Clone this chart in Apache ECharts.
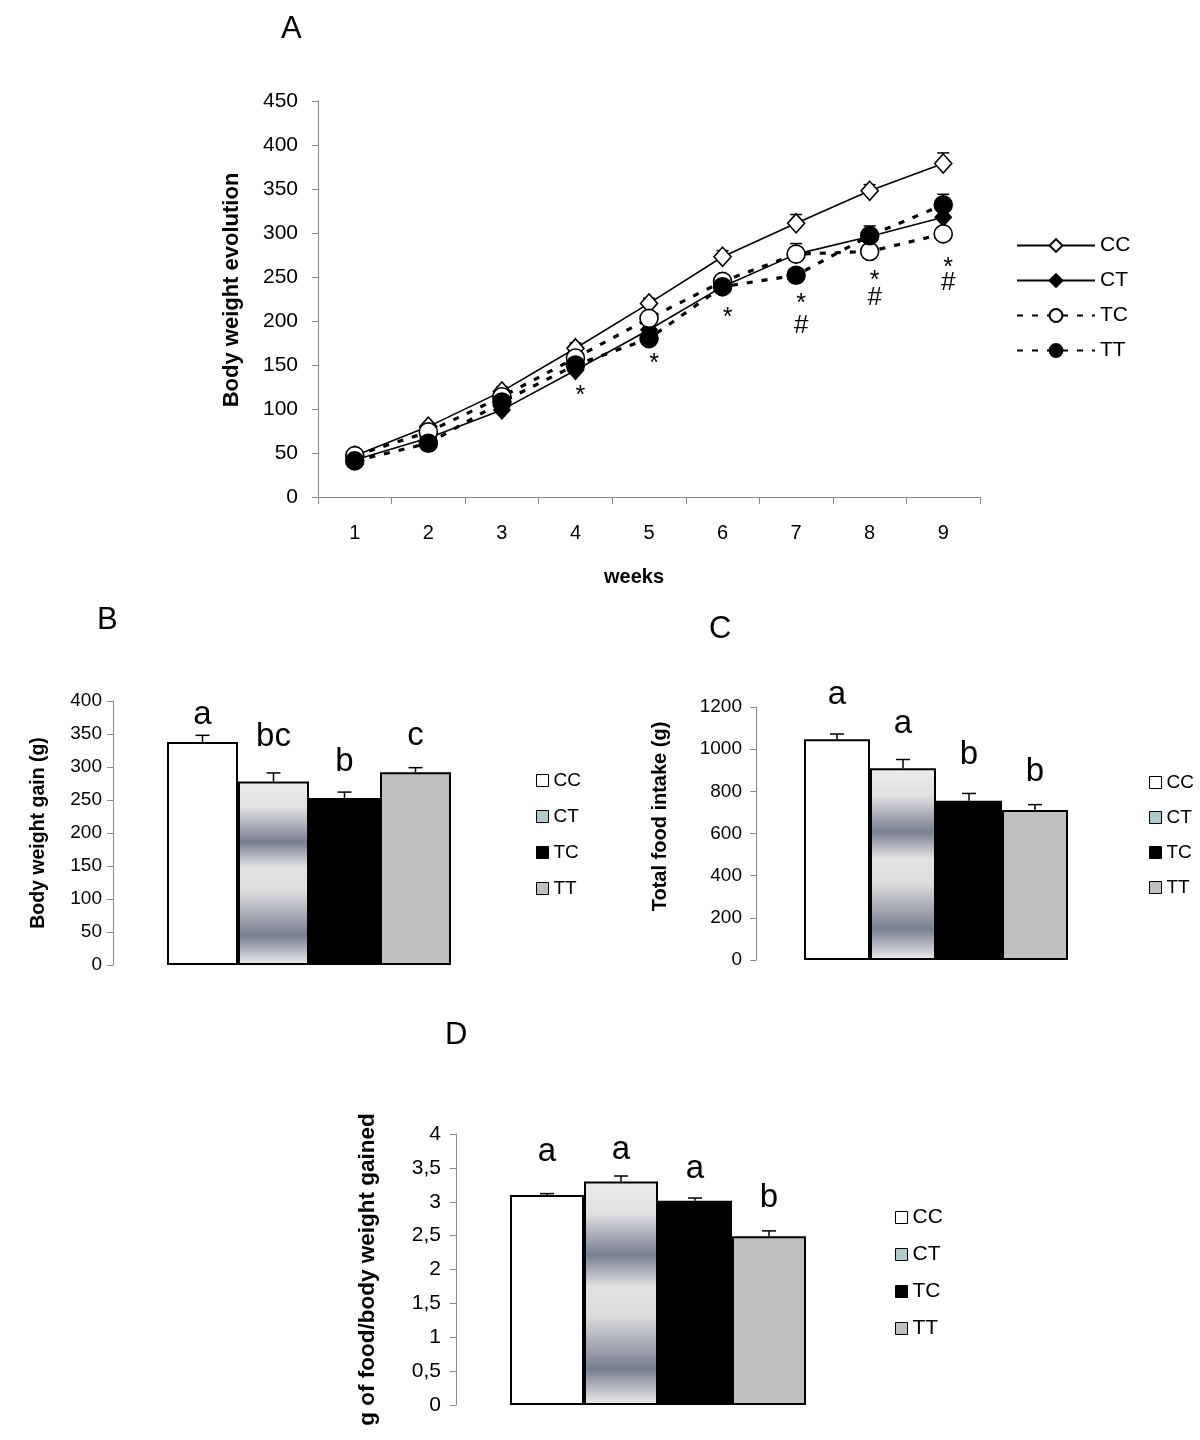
<!DOCTYPE html>
<html><head><meta charset="utf-8">
<script src="https://cdn.jsdelivr.net/npm/echarts@6/dist/echarts.min.js"></script>
<style>
html,body{margin:0;padding:0;background:#fff;}
.layer{position:absolute;left:0;top:0;width:1200px;height:1440px;}
</style></head><body>
<div id="a" class="layer"></div>
<div id="b" class="layer"></div>
<div id="c" class="layer"></div>
<div id="d" class="layer"></div>
<script>
// ---------- DATA ----------
const groups = ['CC', 'CT', 'TC', 'TT'];
const weeks = ['1', '2', '3', '4', '5', '6', '7', '8', '9'];
const ccWeight = [47, 80, 120, 169, 220, 273, 311, 348, 379];
const ctWeight = [42, 67, 99, 144, 190, 239, 276, 296, 318];
const tcWeight = [47, 74, 114, 158, 203, 245, 276, 279, 299];
const ttWeight = [41, 61, 108, 150, 180, 239, 252, 297, 332];
const ccWeightErr = [3, 4, 5, 6, 6, 7, 10, 7, 12];
const ctWeightErr = [2, 3, 4, 5, 6, 7, 7, 7, 8];
const tcWeightErr = [3, 4, 5, 6, 7, 7, 12, 7, 8];
const ttWeightErr = [2, 3, 4, 5, 6, 7, 7, 11, 12];
// significance marks: [week, symbol, height on the value scale]
const sigMarks = [['4', '*', 122], ['5', '*', 158], ['6', '*', 210], ['7', '*', 226], ['7', '#', 195],
                  ['8', '*', 252], ['8', '#', 226], ['9', '*', 267], ['9', '#', 243]];
const yTicksA = [0, 450, 50];

const weightGain = [338, 278, 253, 292];
const weightGainErr = [10, 13, 9, 7];
const weightGainLetters = ['a', 'bc', 'b', 'c'];

const foodIntake = [1047, 909, 755, 711];
const foodIntakeErr = [25, 42, 35, 26];
const foodIntakeLetters = ['a', 'a', 'b', 'b'];

const foodPerGain = [3.1, 3.3, 3.015, 2.49];
const foodPerGainErr = [0.02, 0.08, 0.04, 0.08];
const foodPerGainLetters = ['a', 'a', 'a', 'b'];

// ---------- STYLE ----------
const FONT = '"Liberation Sans", Arial, sans-serif';
const AXIS_GREY = '#8a8a8a';
const ctGradient = () => new echarts.graphic.LinearGradient(0, 0, 0, 1, [
  {offset: 0, color: '#ececec'}, {offset: 0.14, color: '#e2e2e2'},
  {offset: 0.33, color: '#787e93'}, {offset: 0.47, color: '#e3e3e3'},
  {offset: 0.6, color: '#dcdcdc'}, {offset: 0.84, color: '#787e93'},
  {offset: 1, color: '#efefef'}]);
const barFills = [() => '#ffffff', ctGradient, () => '#000000', () => '#c0c0c0'];
const legendFills = ['#ffffff', '#b0cacc', '#000000', '#c0c0c0'];

// ---------- PANEL A ----------
const chartA = echarts.init(document.getElementById('a'), null, {renderer: 'canvas'});
const lineSets = [
  {name: 'CC', data: ccWeight, err: ccWeightErr, symbol: 'diamond', size: [17, 19], fill: '#fff', dashed: false},
  {name: 'CT', data: ctWeight, err: ctWeightErr, symbol: 'diamond', size: [16, 18], fill: '#000', dashed: false},
  {name: 'TC', data: tcWeight, err: tcWeightErr, symbol: 'circle', size: 18, fill: '#fff', dashed: true},
  {name: 'TT', data: ttWeight, err: ttWeightErr, symbol: 'circle', size: 18, fill: '#000', dashed: true}
];
function errRenderer(capHalf, lw) {
  return function (params, api) {
    const i = api.value(0), v = api.value(1), e = api.value(2);
    const base = api.coord([i, v]);
    const top = api.coord([i, v + e]);
    return {type: 'group', children: [
      {type: 'line', shape: {x1: base[0], y1: base[1], x2: top[0], y2: top[1]}, style: {stroke: '#000', lineWidth: lw}},
      {type: 'line', shape: {x1: top[0] - capHalf, y1: top[1], x2: top[0] + capHalf, y2: top[1]}, style: {stroke: '#000', lineWidth: lw}}
    ]};
  };
}
const seriesA = [];
lineSets.forEach(s => {
  seriesA.push({
    type: 'custom', name: s.name + ' err', renderItem: errRenderer(6, 1.5), z: 1,
    data: s.data.map((v, i) => [i, v, s.err[i]]), silent: true
  });
});
lineSets.forEach((s, k) => {
  seriesA.push({
    type: 'line', name: s.name, data: s.data, z: 3 + k,
    symbol: s.symbol, symbolSize: s.size, showAllSymbol: true,
    itemStyle: {color: s.fill, borderColor: '#000', borderWidth: 1.6},
    lineStyle: s.dashed ? {color: '#000', width: 3.2, type: [6, 9]} : {color: '#000', width: 1.6, type: 'solid'},
    emphasis: {disabled: true}, animation: false
  });
});
seriesA.push({
  type: 'custom', name: 'sig', z: 10, silent: true,
  data: sigMarks.map(m => [weeks.indexOf(m[0]), m[2], m[1]]),
  renderItem: function (params, api) {
    const p = api.coord([api.value(0), api.value(1)]);
    const t = sigMarks[params.dataIndex][1];
    return {type: 'text', x: p[0] + 5, y: p[1] + (t === '*' ? 6 : 0),
      style: {text: t, font: (t === '*' ? '25px ' : '26px ') + FONT, fill: '#000', align: 'center', verticalAlign: 'middle'}};
  }
});
chartA.setOption({
  animation: false,
  textStyle: {fontFamily: FONT},
  grid: {left: 318, top: 101, width: 662, height: 396},
  xAxis: {
    type: 'category', data: weeks, boundaryGap: true,
    axisLine: {lineStyle: {color: AXIS_GREY, width: 1}},
    axisTick: {show: true, length: 7, lineStyle: {color: AXIS_GREY}},
    axisLabel: {fontSize: 20, color: '#000', margin: 26, fontFamily: FONT},
    name: 'weeks', nameLocation: 'middle', nameGap: 70,
    nameTextStyle: {fontSize: 20, fontWeight: 'bold', color: '#000', fontFamily: FONT, padding: [0, 30, 0, 0]}
  },
  yAxis: {
    type: 'value', min: yTicksA[0], max: yTicksA[1], interval: yTicksA[2],
    axisLine: {show: true, lineStyle: {color: AXIS_GREY, width: 1}},
    axisTick: {show: true, length: 6, lineStyle: {color: AXIS_GREY}},
    splitLine: {show: false},
    axisLabel: {fontSize: 21, color: '#000', margin: 20, fontFamily: FONT},
    name: 'Body weight evolution', nameLocation: 'middle', nameGap: 75, nameRotate: 90,
    nameTextStyle: {fontSize: 22, fontWeight: 'bold', color: '#000', fontFamily: FONT, padding: [0, 0, 0, 18]}
  },
  legend: {
    orient: 'vertical', left: 1011, top: 230, itemWidth: 78, itemHeight: 16, itemGap: 14,
    data: groups, selectedMode: false,
    textStyle: {fontSize: 21, color: '#000', fontFamily: FONT}
  },
  graphic: [
    {type: 'text', left: 281, top: 14, style: {text: 'A', font: '31px ' + FONT, fill: '#000'}},
    {type: 'text', left: 97, top: 605, style: {text: 'B', font: '31px ' + FONT, fill: '#000'}},
    {type: 'text', left: 709, top: 614, style: {text: 'C', font: '31px ' + FONT, fill: '#000'}},
    {type: 'text', left: 445, top: 1020, style: {text: 'D', font: '31px ' + FONT, fill: '#000'}}
  ],
  series: seriesA
});

// ---------- BAR PANELS ----------
function barPanel(el, cfg) {
  const chart = echarts.init(document.getElementById(el), null, {renderer: 'canvas'});
  const series = groups.map((g, i) => ({
    type: 'bar', name: g, stack: 'all', barCategoryGap: '0%',
    data: cfg.values.map((v, j) => (j === i ? v : '-')),
    itemStyle: {color: barFills[i](), borderColor: '#000', borderWidth: 2},
    emphasis: {disabled: true}, z: 2
  }));
  series.push({
    type: 'custom', name: 'err', z: 1, silent: true,
    data: cfg.values.map((v, i) => [i, v, cfg.errs[i]]),
    renderItem: errRenderer(cfg.cap, 1.5)
  });
  series.push({
    type: 'custom', name: 'letters', z: 5, silent: true,
    data: cfg.values.map((v, i) => [i, v + cfg.errs[i]]),
    renderItem: function (params, api) {
      const p = api.coord([api.value(0), api.value(1)]);
      return {type: 'text', x: p[0], y: p[1] - cfg.lift[params.dataIndex],
        style: {text: cfg.letters[params.dataIndex], font: cfg.letterSize + 'px ' + FONT, fill: '#000',
          align: 'center', verticalAlign: 'bottom'}};
    }
  });
  chart.setOption({
    animation: false,
    textStyle: {fontFamily: FONT},
    grid: cfg.grid,
    xAxis: {type: 'category', data: groups, show: false},
    yAxis: {
      type: 'value', min: cfg.min, max: cfg.max, interval: cfg.interval, offset: cfg.offset,
      axisLine: {show: true, lineStyle: {color: AXIS_GREY, width: 1}},
      axisTick: {show: true, length: 6, lineStyle: {color: AXIS_GREY}},
      splitLine: {show: false},
      axisLabel: {fontSize: cfg.tickSize, color: '#000', margin: cfg.labelMargin, fontFamily: FONT,
        formatter: v => String(v).replace('.', ',')},
      name: cfg.yName, nameLocation: 'middle', nameGap: cfg.nameGap, nameRotate: 90,
      nameTextStyle: {fontSize: cfg.nameSize, fontWeight: 'bold', color: '#000', fontFamily: FONT,
        padding: [0, 0, 0, cfg.nameShift]}
    },
    legend: {
      orient: 'vertical', left: cfg.legend[0], top: cfg.legend[1], icon: 'rect',
      itemWidth: cfg.legendBox, itemHeight: cfg.legendBox, itemGap: cfg.legendGap, selectedMode: false,
      data: groups.map((g, i) => ({name: g, itemStyle: {color: legendFills[i], borderColor: '#000', borderWidth: 1}})),
      textStyle: {fontSize: cfg.legendFont, color: '#000', fontFamily: FONT}
    },
    series: series
  });
}

barPanel('b', {
  values: weightGain, errs: weightGainErr, letters: weightGainLetters,
  grid: {left: 167, top: 701, width: 284, height: 264}, offset: 54,
  min: 0, max: 400, interval: 50, tickSize: 19, labelMargin: 11,
  yName: 'Body weight gain (g)', nameGap: 64, nameSize: 19.5, nameShift: 0,
  legend: [531, 766], legendBox: 12, legendGap: 17, legendFont: 19,
  cap: 7, letterSize: 33, lift: [4, 20, 14, 15]
});
barPanel('c', {
  values: foodIntake, errs: foodIntakeErr, letters: foodIntakeLetters,
  grid: {left: 804, top: 707, width: 264, height: 253}, offset: 48,
  min: 0, max: 1200, interval: 200, tickSize: 19, labelMargin: 14,
  yName: 'Total food intake (g)', nameGap: 86, nameSize: 20, nameShift: 34,
  legend: [1144, 768], legendBox: 12, legendGap: 16, legendFont: 19,
  cap: 7, letterSize: 33, lift: [23, 19, 22, 16]
});
barPanel('d', {
  values: foodPerGain, errs: foodPerGainErr, letters: foodPerGainLetters,
  grid: {left: 510, top: 1134, width: 296, height: 271}, offset: 54,
  min: 0, max: 4, interval: 0.5, tickSize: 21, labelMargin: 15,
  yName: 'g of food/body weight gained', nameGap: 77, nameSize: 22.5, nameShift: 0,
  legend: [890, 1202], legendBox: 12, legendGap: 16, legendFont: 21,
  cap: 7, letterSize: 33, lift: [25, 10, 13, 16]
});
</script>
</body></html>
